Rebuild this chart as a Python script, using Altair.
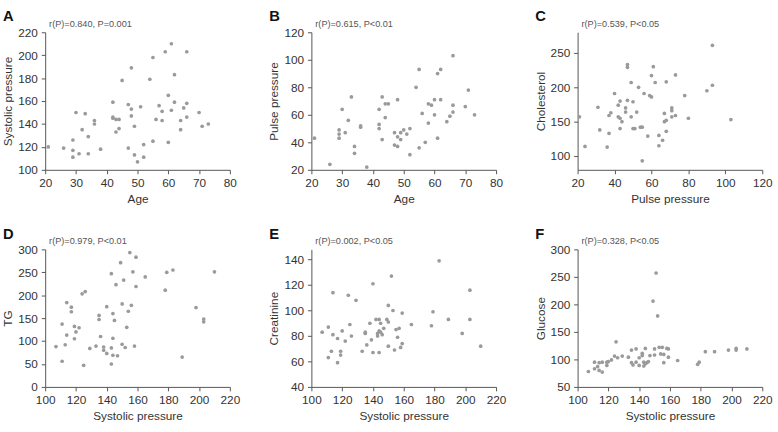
import altair as alt
import pandas as pd

FONT = "Liberation Sans"

# Panel A: Age vs Systolic pressure
a_age = [21, 26, 29, 29, 29, 30, 31, 32, 33, 34, 34, 36, 36, 38, 42, 42, 42, 43, 43, 44, 44, 45, 47, 47,
         48, 48, 48, 49, 49, 50, 51, 52, 52, 54, 55, 55, 56, 57, 58, 58, 59, 60, 60, 61, 61, 62, 62, 64,
         64, 65, 66, 66, 66, 70, 71, 73]
a_sbp = [120, 119, 126, 117, 111, 150, 114, 135, 149, 129, 114, 143, 140, 118, 159, 146, 145, 144, 133, 144,
         136, 178, 157, 119, 189, 153, 147, 138, 113, 107, 155, 111, 122, 179, 198, 125, 144, 156, 151, 143,
         203, 165, 124, 210, 152, 183, 159, 143, 135, 154, 203, 158, 146, 150, 138, 140]

# Panel B: Age vs Pulse pressure
b_age = [21, 26, 29, 29, 29, 30, 31, 32, 33, 34, 34, 36, 36, 38, 42, 42, 42, 43, 43, 44, 44, 45, 47, 47,
         48, 48, 48, 49, 49, 50, 51, 52, 52, 54, 55, 55, 56, 57, 58, 58, 59, 60, 60, 61, 61, 62, 62, 64,
         65, 66, 66, 66, 70, 71, 73]
b_pp = [43, 24, 49, 46, 43, 64, 47, 56, 73, 37, 32, 52, 51, 22, 64, 53, 50, 73, 42, 58, 68, 68, 47, 38,
        37, 44, 71, 47, 42, 49, 46, 50, 31, 80, 93, 36, 61, 40, 68, 54, 67, 71, 60, 90, 43, 93, 71, 55,
        59, 103, 67, 62, 66, 78, 60]

# Panel C: Pulse pressure vs Cholesterol
c_pp = [21, 24, 31, 32, 36, 37, 37, 38, 40, 42, 42, 43, 43, 43, 44, 46, 46, 47, 47, 47, 49, 49, 50, 50,
        51, 52, 53, 54, 55, 55, 56, 58, 59, 60, 60, 61, 62, 64, 64, 66, 67, 67, 68, 68, 68, 71, 71, 71,
        73, 73, 78, 80, 90, 93, 93, 103]
c_chol = [157, 114, 171, 138, 113, 159, 133, 163, 191, 174, 157, 180, 155, 140, 150, 170, 164, 233, 229, 181,
          207, 157, 179, 140, 140, 164, 200, 142, 142, 93, 191, 129, 188, 186, 217, 230, 207, 130, 115, 123,
          162, 150, 152, 136, 208, 170, 166, 157, 218, 159, 188, 155, 195, 261, 203, 153]

# Panel D: Systolic pressure vs TG
d_sbp = [107, 111, 111, 113, 114, 114, 117, 117, 119, 119, 120, 122, 124, 126, 125, 129, 133, 135, 135, 136,
         138, 138, 140, 140, 143, 143, 143, 144, 144, 144, 145, 146, 147, 149, 150, 150, 151, 152, 153, 154,
         155, 156, 157, 158, 159, 159, 165, 178, 179, 183, 189, 198, 203, 203, 210]
d_tg = [88, 137, 56, 92, 184, 113, 174, 164, 132, 105, 120, 129, 203, 208, 47, 84, 89, 156, 147, 110,
        87, 80, 175, 73, 247, 85, 50, 160, 106, 69, 145, 223, 68, 271, 181, 93, 233, 86, 130, 165,
        293, 178, 251, 89, 283, 219, 240, 211, 250, 255, 65, 173, 148, 142, 251]

# Panel E: Systolic pressure vs Creatinine
e_sbp = [107, 111, 111, 113, 114, 114, 117, 117, 119, 119, 120, 122, 124, 125, 126, 129, 133, 135, 135, 136,
         138, 139, 140, 140, 142, 143, 143, 144, 144, 144, 145, 145, 146, 147, 149, 150, 150, 150, 152, 153,
         154, 155, 156, 157, 158, 159, 159, 165, 178, 179, 183, 189, 198, 203, 203, 210]
e_cr = [83, 87, 63, 68, 114, 81, 78, 59, 68, 65, 84, 76, 112, 89, 80, 108, 68, 83, 82, 73,
        90, 77, 121, 67, 93, 82, 80, 93, 84, 67, 83, 90, 81, 86, 93, 91, 104, 72, 127, 100,
        69, 85, 79, 86, 71, 98, 74, 89, 88, 99, 139, 93, 82, 116, 93, 72]

# Panel F: Systolic pressure vs Glucose
f_sbp = [107, 111, 111, 113, 114, 114, 116, 116, 119, 119, 120, 122, 124, 125, 126, 129, 133, 135, 135, 136,
         138, 138, 140, 140, 142, 142, 143, 143, 144, 144, 145, 146, 147, 149, 150, 150, 151, 152, 153, 154,
         155, 156, 156, 158, 159, 159, 165, 178, 179, 183, 189, 198, 203, 203, 210]
f_glu = [78, 95, 83, 87, 94, 80, 77, 95, 95, 89, 96, 99, 106, 132, 103, 106, 104, 117, 94, 90,
         119, 95, 103, 89, 111, 107, 88, 95, 120, 92, 94, 96, 107, 206, 108, 119, 257, 179, 122, 110,
         122, 109, 94, 120, 119, 104, 98, 91, 95, 114, 114, 117, 120, 117, 119]

letters = ["A", "B", "C", "D", "E", "F"]
notes = ["r(P)=0.840, P=0.001", "r(P)=0.615, P<0.01", "r(P)=0.539, P<0.05",
         "r(P)=0.979, P<0.01", "r(P)=0.002, P<0.05", "r(P)=0.328, P<0.05"]


def panel(xv, yv, xname, yname, xdom, ydom, xticks, yticks, letter, note):
    df = pd.DataFrame({"x": xv, "y": yv})
    pts = alt.Chart(df).mark_circle(size=14, color="#9a9a9a", opacity=1).encode(
        x=alt.X("x:Q", scale=alt.Scale(domain=xdom, nice=False, zero=False),
                axis=alt.Axis(title=xname, values=xticks)),
        y=alt.Y("y:Q", scale=alt.Scale(domain=ydom, nice=False, zero=False),
                axis=alt.Axis(title=yname, values=yticks)),
    )
    lab = alt.Chart(pd.DataFrame({"t": [letter]})).mark_text(
        font=FONT, fontSize=15, fontWeight="bold", color="#111", align="left", baseline="alphabetic"
    ).encode(text="t:N", x=alt.value(-43), y=alt.value(-11))
    nt = alt.Chart(pd.DataFrame({"t": [note]})).mark_text(
        font=FONT, fontSize=9.3, color="#555", align="left", baseline="alphabetic"
    ).encode(text="t:N", x=alt.value(4), y=alt.value(-5))
    return alt.layer(pts, lab, nt).properties(width=188, height=140)


pA = panel(a_age, a_sbp, "Age", "Systolic pressure", [20, 80], [100, 220],
           [20, 30, 40, 50, 60, 70, 80], [100, 120, 140, 160, 180, 200, 220], letters[0], notes[0])
pB = panel(b_age, b_pp, "Age", "Pulse pressure", [20, 80], [20, 120],
           [20, 30, 40, 50, 60, 70, 80], [20, 40, 60, 80, 100, 120], letters[1], notes[1])
pC = panel(c_pp, c_chol, "Pulse pressure", "Cholesterol", [20, 120], [80, 280],
           [20, 40, 60, 80, 100, 120], [100, 150, 200, 250], letters[2], notes[2])
pD = panel(d_sbp, d_tg, "Systolic pressure", "TG", [100, 220], [0, 300],
           [100, 120, 140, 160, 180, 200, 220], [0, 50, 100, 150, 200, 250, 300], letters[3], notes[3])
pE = panel(e_sbp, e_cr, "Systolic pressure", "Creatinine", [100, 220], [40, 148],
           [100, 120, 140, 160, 180, 200, 220], [40, 60, 80, 100, 120, 140], letters[4], notes[4])
pF = panel(f_sbp, f_glu, "Systolic pressure", "Glucose", [100, 220], [50, 300],
           [100, 120, 140, 160, 180, 200, 220], [50, 100, 150, 200, 250, 300], letters[5], notes[5])

chart = alt.concat(pA, pB, pC, pD, pE, pF, columns=3,
                   spacing={"row": 81, "column": 83}, bounds="flush").properties(
    padding={"left": 1, "top": 6, "right": 5, "bottom": 5},
    background="white",
).configure_view(stroke=None).configure_axis(
    grid=False, domainColor="#555", tickColor="#555", domainWidth=1, tickWidth=1,
    labelColor="#333", titleColor="#333", labelFont=FONT, titleFont=FONT,
    labelFontSize=12, titleFontSize=12, titleFontWeight="normal",
    tickSize=4, labelPadding=4, labelFlush=False, labelBound=False,
).configure_axisX(titlePadding=5).configure_axisY(titlePadding=3)

chart.save("out.html", embed_options={"renderer": "svg", "actions": False})
